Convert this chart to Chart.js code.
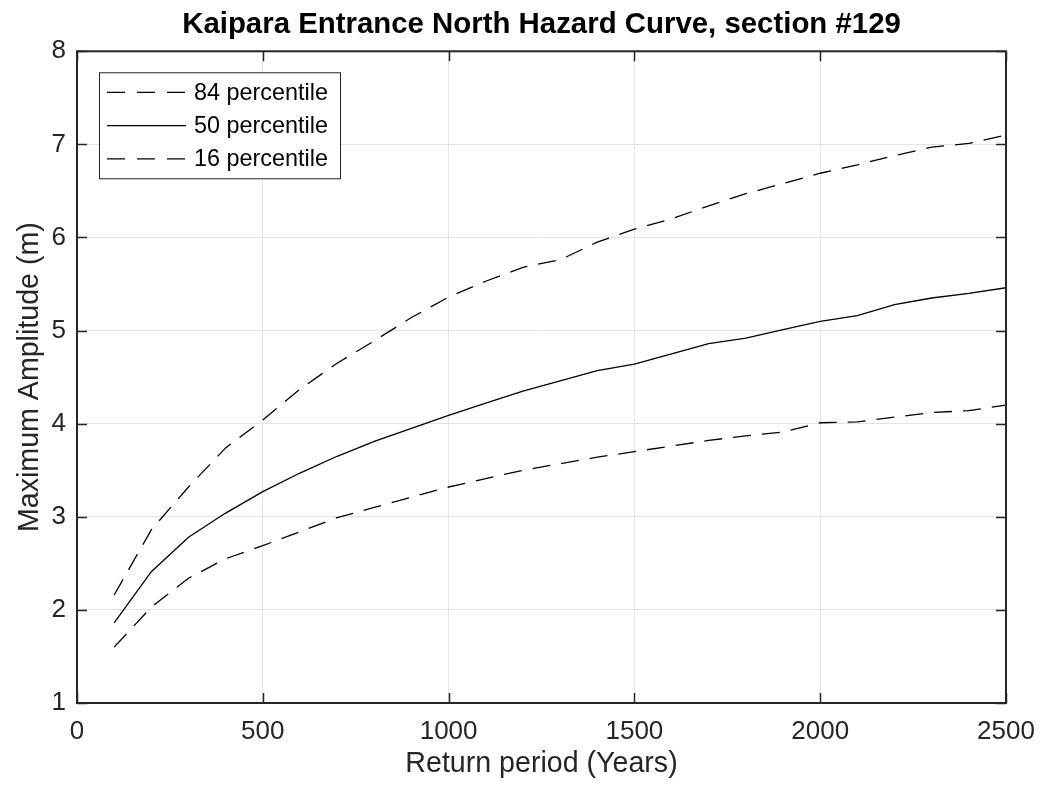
<!DOCTYPE html>
<html>
<head>
<meta charset="utf-8">
<script src="https://cdn.jsdelivr.net/npm/chart.js@4.4.1/dist/chart.umd.min.js"></script>
<style>
  html, body { margin: 0; padding: 0; background: #fff; }
  #wrap { width: 1041px; height: 788px; }
</style>
</head>
<body>
<div id="wrap"><canvas id="hazard"></canvas></div>
<script>
// return periods (years) and amplitudes
const years = [100, 200, 300, 400, 500, 600, 700, 800, 900, 1000, 1100, 1200, 1300,
  1400, 1500, 1600, 1700, 1800, 1900, 2000, 2100, 2200, 2300, 2400, 2500];
const p84 = [2.16, 2.86, 3.32, 3.74, 4.04, 4.37, 4.65, 4.89, 5.14, 5.36, 5.53, 5.68, 5.76,
  5.95, 6.09, 6.20, 6.34, 6.47, 6.58, 6.69, 6.78, 6.88, 6.97, 7.01, 7.10];
const p50 = [1.86, 2.41, 2.78, 3.04, 3.27, 3.47, 3.65, 3.81, 3.95, 4.09, 4.22, 4.35, 4.46,
  4.57, 4.64, 4.75, 4.86, 4.92, 5.01, 5.10, 5.16, 5.28, 5.35, 5.40, 5.46];
const p16 = [1.60, 2.03, 2.34, 2.55, 2.69, 2.84, 2.99, 3.10, 3.21, 3.32, 3.41, 3.50, 3.57,
  3.64, 3.70, 3.76, 3.82, 3.87, 3.91, 4.01, 4.02, 4.07, 4.12, 4.14, 4.20];
const seriesNames = ['84 percentile', '50 percentile', '16 percentile'];
const xTicks = [0, 500, 1000, 1500, 2000, 2500];
const yTicks = [1, 2, 3, 4, 5, 6, 7, 8];

const FONT = '"Liberation Sans", Arial, Helvetica, sans-serif';
const AXIS = '#262626';

function pts(vals) {
  return years.map(function (y, i) { return { x: y, y: vals[i] }; });
}

// box, inward ticks and the legend, MATLAB style
const boxPlugin = {
  id: 'box',
  afterDatasetsDraw(chart) {
    const ctx = chart.ctx;
    const a = chart.chartArea;
    const xs = chart.scales.x, ys = chart.scales.y;
    const tl = 10;
    ctx.save();
    ctx.strokeStyle = AXIS;
    ctx.lineWidth = 1.5;
    xTicks.forEach(function (v) {
      const px = Math.round(xs.getPixelForValue(v)) + 0.5;
      ctx.beginPath();
      ctx.moveTo(px, a.bottom); ctx.lineTo(px, a.bottom - tl);
      ctx.moveTo(px, a.top); ctx.lineTo(px, a.top + tl);
      ctx.stroke();
    });
    yTicks.forEach(function (v) {
      const py = Math.round(ys.getPixelForValue(v)) + 0.5;
      ctx.beginPath();
      ctx.moveTo(a.left, py); ctx.lineTo(a.left + tl, py);
      ctx.moveTo(a.right, py); ctx.lineTo(a.right - tl, py);
      ctx.stroke();
    });
    ctx.lineWidth = 2;
    ctx.strokeRect(a.left, a.top, a.right - a.left, a.bottom - a.top);

    // legend
    const lx = a.left + 22, ly = a.top + 21, lw = 241, lh = 106;
    ctx.fillStyle = '#fff';
    ctx.fillRect(lx, ly, lw, lh);
    ctx.lineWidth = 1;
    ctx.strokeStyle = AXIS;
    ctx.strokeRect(lx + 0.5, ly + 0.5, lw, lh);
    ctx.font = '23.4px ' + FONT;
    ctx.textBaseline = 'middle';
    ctx.textAlign = 'left';
    chart.data.datasets.forEach(function (ds, i) {
      const yy = ly + 20 + i * 33.3;
      ctx.strokeStyle = '#000';
      ctx.lineWidth = 1.3;
      ctx.setLineDash(ds.borderDash && ds.borderDash.length ? [18, 12] : []);
      ctx.beginPath();
      ctx.moveTo(lx + 8, yy); ctx.lineTo(lx + 87, yy);
      ctx.stroke();
      ctx.setLineDash([]);
      ctx.fillStyle = '#000';
      ctx.fillText(ds.label, lx + 95, yy + 1);
    });
    ctx.restore();
  }
};

function plain(v) { return String(v); }

new Chart(document.getElementById('hazard'), {
  type: 'line',
  data: {
    datasets: [
      { label: seriesNames[0], data: pts(p84), borderDash: [18, 11] },
      { label: seriesNames[1], data: pts(p50), borderDash: [] },
      { label: seriesNames[2], data: pts(p16), borderDash: [18, 11] }
    ].map(function (d) {
      d.borderColor = '#000';
      d.borderWidth = 1.3;
      d.pointRadius = 0;
      d.tension = 0;
      d.fill = false;
      return d;
    })
  },
  options: {
    responsive: true,
    maintainAspectRatio: false,
    animation: false,
    layout: { padding: { left: 0, right: 35, top: 0, bottom: 0 } },
    plugins: {
      legend: { display: false },
      tooltip: { enabled: false },
      title: {
        display: true,
        text: 'Kaipara Entrance North Hazard Curve, section #129',
        color: '#000',
        fullSize: false,
        font: { family: FONT, size: 29.4, weight: 'bold', lineHeight: 1.2 },
        padding: { top: 7, bottom: 9 }
      }
    },
    scales: {
      x: {
        type: 'linear',
        min: 0, max: 2500,
        afterBuildTicks(scale) { scale.ticks = xTicks.map(function (v) { return { value: v }; }); },
        afterFit(scale) { scale.height = 85; scale.paddingLeft = 0; scale.paddingRight = 0; },
        grid: { color: '#e3e3e3', lineWidth: 1, drawTicks: false },
        border: { display: false },
        ticks: { color: AXIS, padding: 13, maxRotation: 0, callback: plain, font: { family: FONT, size: 26 } },
        title: {
          display: true, text: 'Return period (Years)', color: AXIS,
          font: { family: FONT, size: 28.6 }, padding: { top: 0, bottom: 7 }
        }
      },
      y: {
        min: 1, max: 8,
        afterBuildTicks(scale) { scale.ticks = yTicks.map(function (v) { return { value: v }; }); },
        afterFit(scale) { scale.width = 77; scale.paddingTop = 0; scale.paddingBottom = 0; },
        grid: { color: '#e3e3e3', lineWidth: 1, drawTicks: false },
        border: { display: false },
        ticks: { color: AXIS, padding: 11, callback: plain, font: { family: FONT, size: 26 } },
        title: {
          display: true, text: 'Maximum Amplitude (m)', color: AXIS,
          font: { family: FONT, size: 28.6 }, padding: { top: 13, bottom: 0 }
        }
      }
    }
  },
  plugins: [boxPlugin]
});
</script>
</body>
</html>
